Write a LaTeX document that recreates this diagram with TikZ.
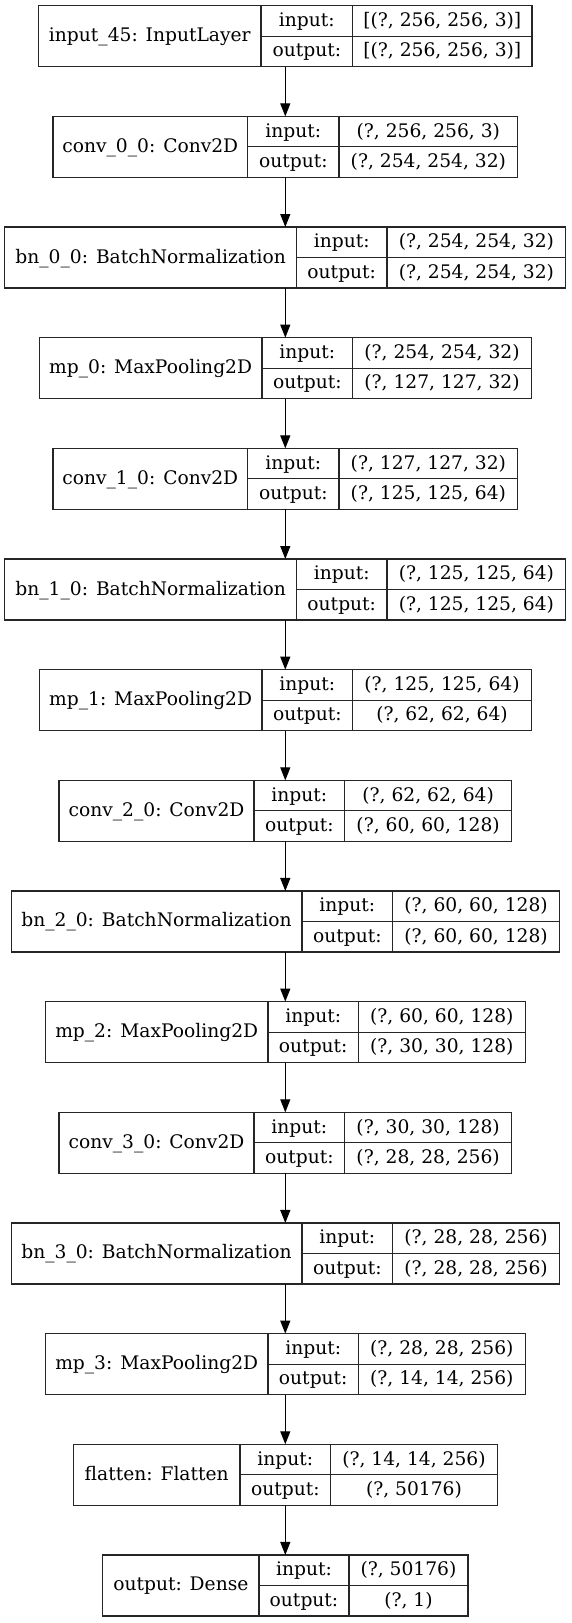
\documentclass[tikz,border=0pt]{standalone}
\usepackage{fontspec}
\setmainfont{DejaVu Serif}
\usetikzlibrary{arrows.meta}
\tikzset{
  layerbox/.style={draw=black!85, line width=1.2pt, rectangle, inner sep=0pt, outer sep=0pt, minimum height=61pt},
  layerline/.style={draw=black!85, line width=1.2pt},
  flowarrow/.style={line width=1.2pt, -{Triangle[length=13pt,width=10pt]}},
  celltext/.style={inner sep=0pt, text height=15pt, text depth=4pt, font=\fontsize{18.67pt}{22pt}\selectfont}
}
% name, row, half width, divider 1, divider 2, layer, input shape, output shape
\newcommand{\kerasrow}[8]{%
  \pgfmathsetmacro{\rtop}{-5.7-#2*110.66}
  \pgfmathsetmacro{\rmid}{\rtop-30.5}
  \pgfmathsetmacro{\rbot}{\rtop-61}
  \pgfmathsetmacro{\rleft}{285.3-#3}
  \pgfmathsetmacro{\rright}{285.3+#3}
  \node[layerbox, minimum width={2*#3}] (#1) at (285.3,\rmid) {};
  \draw[layerline] (#4,\rtop) -- (#4,\rbot) (#5,\rtop) -- (#5,\rbot) (#4,\rmid) -- (\rright,\rmid);
  \node[celltext] (#1-lbl) at ({(\rleft+#4)/2},\rmid) {#6};
  \node[celltext] (#1-in) at ({(#4+#5)/2},{\rtop-15.25}) {input:};
  \node[celltext] (#1-out) at ({(#4+#5)/2},{\rtop-45.75}) {output:};
  \node[celltext] (#1-inv) at ({(#5+\rright)/2},{\rtop-15.25}) {#7};
  \node[celltext] (#1-outv) at ({(#5+\rright)/2},{\rtop-45.75}) {#8};
}
\begin{document}
\begin{tikzpicture}[x=1pt,y=1pt]
  \useasboundingbox (0,0) rectangle (571,-1623);
  \kerasrow{inp}{0}{246.7}{261}{352.7}{input\_45: InputLayer}{[(?, 256, 256, 3)]}{[(?, 256, 256, 3)]}
  \kerasrow{conv00}{1}{232.4}{247.7}{339}{conv\_0\_0: Conv2D}{(?, 256, 256, 3)}{(?, 254, 254, 32)}
  \kerasrow{bn00}{2}{280.5}{296.5}{387}{bn\_0\_0: BatchNormalization}{(?, 254, 254, 32)}{(?, 254, 254, 32)}
  \kerasrow{mp0}{3}{246.1}{262}{352.7}{mp\_0: MaxPooling2D}{(?, 254, 254, 32)}{(?, 127, 127, 32)}
  \kerasrow{conv10}{4}{232.4}{247.7}{339}{conv\_1\_0: Conv2D}{(?, 127, 127, 32)}{(?, 125, 125, 64)}
  \kerasrow{bn10}{5}{280.5}{296.5}{387}{bn\_1\_0: BatchNormalization}{(?, 125, 125, 64)}{(?, 125, 125, 64)}
  \kerasrow{mp1}{6}{246.1}{262}{352.7}{mp\_1: MaxPooling2D}{(?, 125, 125, 64)}{(?, 62, 62, 64)}
  \kerasrow{conv20}{7}{226.3}{254}{344.7}{conv\_2\_0: Conv2D}{(?, 62, 62, 64)}{(?, 60, 60, 128)}
  \kerasrow{bn20}{8}{274.2}{302}{392.7}{bn\_2\_0: BatchNormalization}{(?, 60, 60, 128)}{(?, 60, 60, 128)}
  \kerasrow{mp2}{9}{239.9}{268}{358.5}{mp\_2: MaxPooling2D}{(?, 60, 60, 128)}{(?, 30, 30, 128)}
  \kerasrow{conv30}{10}{226.3}{254}{344.7}{conv\_3\_0: Conv2D}{(?, 30, 30, 128)}{(?, 28, 28, 256)}
  \kerasrow{bn30}{11}{274.2}{302}{392.7}{bn\_3\_0: BatchNormalization}{(?, 28, 28, 256)}{(?, 28, 28, 256)}
  \kerasrow{mp3}{12}{239.9}{268}{358.5}{mp\_3: MaxPooling2D}{(?, 28, 28, 256)}{(?, 14, 14, 256)}
  \kerasrow{flat}{13}{211.9}{240}{330.7}{flatten: Flatten}{(?, 14, 14, 256)}{(?, 50176)}
  \kerasrow{dense}{14}{182.6}{259}{349}{output: Dense}{(?, 50176)}{(?, 1)}
  \foreach \a/\b in {inp/conv00, conv00/bn00, bn00/mp0, mp0/conv10, conv10/bn10, bn10/mp1, mp1/conv20,
                     conv20/bn20, bn20/mp2, mp2/conv30, conv30/bn30, bn30/mp3, mp3/flat, flat/dense}
    \draw[flowarrow] (\a.south) -- (\b.north);
\end{tikzpicture}
\end{document}
